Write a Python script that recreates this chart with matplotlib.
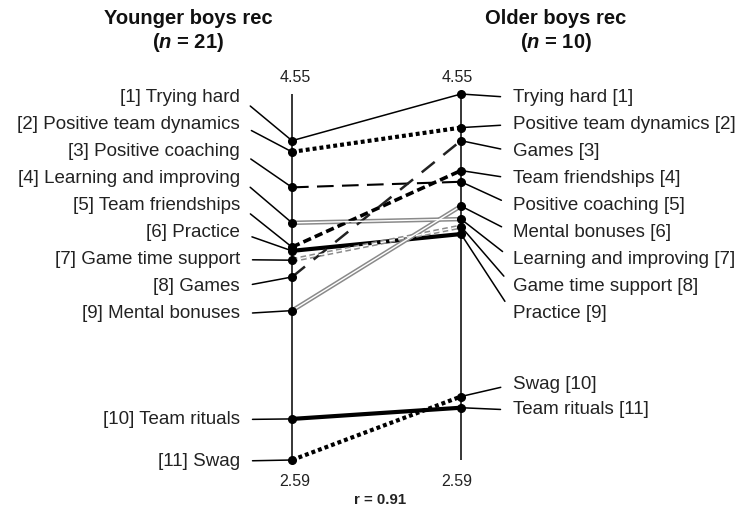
import matplotlib
matplotlib.use('Agg')
import matplotlib.pyplot as plt

plt.rcParams['font.family'] = ['Liberation Sans', 'DejaVu Sans']
plt.rcParams['lines.scale_dashes'] = False
plt.rcParams['mathtext.fontset'] = 'custom'
plt.rcParams['mathtext.it'] = 'Liberation Sans:bold:italic'
plt.rcParams['mathtext.rm'] = 'Liberation Sans:bold'

# Data: mean ratings per theme for the two groups
themes = ['Trying hard', 'Positive team dynamics', 'Positive coaching',
          'Learning and improving', 'Team friendships', 'Practice',
          'Game time support', 'Games', 'Mental bonuses', 'Team rituals', 'Swag']
younger = [4.30, 4.24, 4.05, 3.86, 3.73, 3.71, 3.66, 3.57, 3.39, 2.81, 2.59]
older = [4.55, 4.37, 4.08, 3.88, 4.14, 3.80, 3.84, 4.30, 3.95, 2.87, 2.93]
groups = ['Younger boys rec', 'Older boys rec']
group_n = [21, 10]
r_value = 0.91
y_min, y_max = 2.59, 4.55

# line style for each theme
dotted = dict(color='black', lw=3.0, dashes=(2.8, 2.2))
double = dict(color='#8a8a8a', lw=3.2)
styles = {
    'Trying hard': dict(color='black', lw=1.1),
    'Positive team dynamics': dotted,
    'Positive coaching': dict(color='black', lw=1.5, dashes=(12, 6)),
    'Learning and improving': double,
    'Team friendships': dict(color='black', lw=2.6, dashes=(6, 3)),
    'Practice': dict(color='black', lw=3.0),
    'Game time support': dict(color='#8a8a8a', lw=3.2, dashes=(4, 2.5)),
    'Games': dict(color='#222222', lw=1.8, dashes=(12, 8)),
    'Mental bonuses': double,
    'Team rituals': dict(color='black', lw=3.0),
    'Swag': dotted,
}
double_lines = ['Learning and improving', 'Mental bonuses', 'Game time support']

W, H = 738, 509
fig = plt.figure(figsize=(W / 100, H / 100), dpi=100)
ax = fig.add_axes([292 / W, (H - 460) / H, (461 - 292) / W, (460 - 94) / H])
ax.set_xlim(0, 1)
ax.set_ylim(y_min, y_max)
ax.axis('off')

# vertical axes
ax.vlines([0, 1], y_min, y_max, color='black', lw=1.1, zorder=3, clip_on=False)

for name, a, b in zip(themes, younger, older):
    st = styles[name]
    ax.plot([0, 1], [a, b], solid_capstyle='butt', zorder=2, clip_on=False, **st)
    if name in double_lines:
        inner = dict(st, color='white', lw=1.0)
        ax.plot([0, 1], [a, b], solid_capstyle='butt', zorder=2.1, clip_on=False, **inner)

ax.plot([0] * len(younger), younger, 'o', color='black', ms=5.5, zorder=5, clip_on=False)
ax.plot([1] * len(older), older, 'o', color='black', ms=5.5, zorder=5, clip_on=False)

# labels with leader lines (layout positions in figure pixels from top)
left_order = sorted(range(len(themes)), key=lambda i: -younger[i])
right_order = sorted(range(len(themes)), key=lambda i: -older[i])
left_label_y = [97.5 + 27.03 * k for k in range(9)] + [419.5, 461]
right_label_y = [97.5 + 27.03 * k for k in range(9)] + [384.5, 410]

for rank, (i, ly) in enumerate(zip(left_order, left_label_y), start=1):
    ax.annotate(f'[{rank}] {themes[i]}', xy=(0, younger[i]), xycoords='data',
                xytext=(240, H - ly), textcoords='figure pixels',
                ha='right', va='center', fontsize=13.5, color='#222222',
                annotation_clip=False,
                arrowprops=dict(arrowstyle='-', color='black', lw=1.1,
                                relpos=(1, 0.5), shrinkA=7, shrinkB=0))

for rank, (i, ly) in enumerate(zip(right_order, right_label_y), start=1):
    ax.annotate(f'{themes[i]} [{rank}]', xy=(1, older[i]), xycoords='data',
                xytext=(513, H - ly), textcoords='figure pixels',
                ha='left', va='center', fontsize=13.5, color='#222222',
                annotation_clip=False,
                arrowprops=dict(arrowstyle='-', color='black', lw=1.1,
                                relpos=(0, 0.5), shrinkA=7, shrinkB=0))

# scale end values
for x, dx in [(0, 3), (1, -4)]:
    ax.annotate(f'{y_max:.2f}', xy=(x, y_max), xytext=(dx, 17), textcoords='offset pixels',
                ha='center', va='center', fontsize=11.5, color='#222222', annotation_clip=False)
    ax.annotate(f'{y_min:.2f}', xy=(x, y_min), xytext=(dx, -22), textcoords='offset pixels',
                ha='center', va='center', fontsize=11.5, color='#222222', annotation_clip=False)

ax.annotate(f'r = {r_value:.2f}', xy=(0.5, y_min), xytext=(4, -40), textcoords='offset pixels',
            ha='center', va='center', fontsize=10.8, fontweight='bold', color='#222222',
            annotation_clip=False)

# group titles
for gx, g, n in zip([188, 556], groups, group_n):
    fig.text(gx / W, 1 - 18 / H, g, ha='center', va='center',
             fontsize=14.5, fontweight='bold', color='#111111')
    fig.text(gx / W, 1 - 43 / H, f'($n$ = {n})', ha='center', va='center',
             fontsize=14.5, fontweight='bold', color='#111111')

fig.savefig('out.png', dpi=100)
